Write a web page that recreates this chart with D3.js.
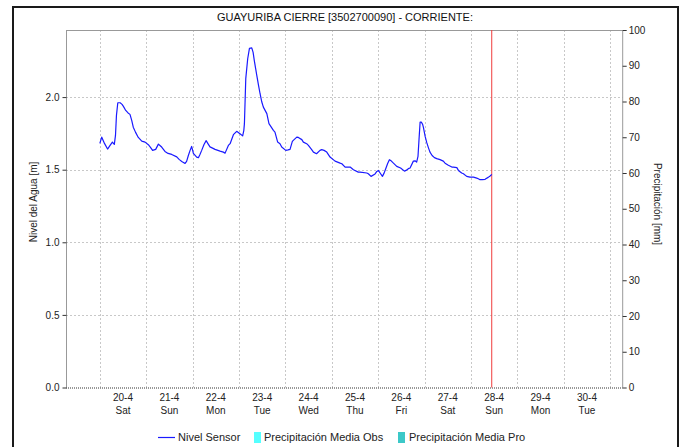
<!DOCTYPE html>
<html>
<head>
<meta charset="utf-8">
<script src="https://cdn.jsdelivr.net/npm/d3@7"></script>
<style>
  body { margin: 0; background: #fff; }
  text { font-family: "Liberation Sans", Arial, sans-serif; }
</style>
</head>
<body>
<svg id="chart" width="684" height="447"></svg>
<script>
// Station and series
const chartTitle = "GUAYURIBA CIERRE [3502700090] - CORRIENTE:";
const leftAxisTitle = "Nivel del Agua [m]";
const rightAxisTitle = "Precipitación [mm]";

// Sensor readings: hours after the first reading, water level in metres
const startTime = "2024-04-20T00:00:00";
const hourOffsets = [
  0, 1.0, 2.4, 4.0, 5.3, 6.5, 7.5, 8.1, 8.6, 9.3,
  10.5, 11.5, 12.2, 13.4, 14.6, 15.6, 16.5, 17.3, 18.5, 19.9,
  21.7, 23.4, 25.1, 26.2, 27.3, 28.9, 30.3, 31.1, 32.0, 33.7,
  35.3, 37.2, 39.8, 41.0, 42.4, 44.1, 44.9, 45.8, 46.7, 47.5,
  48.4, 50.1, 51.0, 51.8, 52.7, 53.9, 55.0, 56.0, 57.0, 58.6,
  59.6, 62.2, 63.9, 64.8, 66.5, 67.4, 69.1, 70.8, 72.5, 73.9,
  74.5, 74.8, 75.5, 76.5, 77.4, 78.6, 79.3, 79.9, 81.2, 82.1,
  82.9, 83.8, 84.6, 86.4, 87.5, 88.1, 89.8, 90.6, 92.0, 93.2,
  94.1, 96.2, 97.4, 98.4, 99.6, 100.1, 101.9, 102.7, 104.5, 105.3,
  107.0, 107.9, 109.6, 110.5, 112.1, 113.9, 114.8, 116.0, 117.4, 119.1,
  121.7, 124.3, 125.2, 126.9, 129.5, 131.2, 133.7, 134.6, 138.1, 138.9,
  140.3, 142.4, 143.3, 144.1, 145.0, 146.2, 147.1, 147.9, 148.9, 149.8,
  150.7, 151.5, 153.6, 155.6, 157.6, 158.4, 159.6, 160.5, 162.2, 163.1,
  163.9, 164.6, 165.1, 165.7, 166.3, 167.0, 167.4, 168.3, 169.1, 170.1,
  170.8, 171.9, 173.1, 174.3, 176.0, 177.7, 178.6, 180.3, 182.1, 182.9,
  184.7, 185.5, 187.2, 188.1, 189.8, 191.5, 193.3, 195.0, 195.8, 196.7,
  197.9, 199.3, 199.7, 200.9, 201.9, 202.8
];
const levels = [
  1.681, 1.724, 1.681, 1.642, 1.667, 1.690, 1.674, 1.736, 1.874, 1.961,
  1.961, 1.950, 1.936, 1.908, 1.891, 1.881, 1.840, 1.793, 1.757, 1.722,
  1.697, 1.690, 1.672, 1.654, 1.633, 1.640, 1.676, 1.667, 1.656, 1.626,
  1.612, 1.605, 1.588, 1.571, 1.557, 1.543, 1.557, 1.598, 1.633, 1.660,
  1.612, 1.587, 1.583, 1.605, 1.633, 1.674, 1.700, 1.678, 1.657, 1.647,
  1.640, 1.628, 1.621, 1.614, 1.667, 1.679, 1.741, 1.764, 1.748, 1.733,
  1.771, 1.817, 2.127, 2.264, 2.335, 2.339, 2.308, 2.253, 2.149, 2.080,
  2.023, 1.966, 1.931, 1.886, 1.817, 1.805, 1.771, 1.759, 1.690, 1.679,
  1.656, 1.633, 1.636, 1.640, 1.695, 1.702, 1.724, 1.722, 1.707, 1.690,
  1.679, 1.667, 1.638, 1.621, 1.610, 1.633, 1.638, 1.633, 1.621, 1.587,
  1.559, 1.545, 1.541, 1.518, 1.518, 1.500, 1.483, 1.483, 1.477, 1.472,
  1.454, 1.471, 1.488, 1.495, 1.477, 1.454, 1.478, 1.507, 1.543, 1.569,
  1.561, 1.550, 1.523, 1.512, 1.490, 1.495, 1.507, 1.512, 1.559, 1.561,
  1.552, 1.592, 1.702, 1.828, 1.828, 1.812, 1.791, 1.729, 1.688, 1.647,
  1.621, 1.598, 1.583, 1.576, 1.569, 1.559, 1.545, 1.530, 1.518, 1.518,
  1.514, 1.495, 1.477, 1.472, 1.454, 1.449, 1.449, 1.442, 1.438, 1.431,
  1.431, 1.433, 1.438, 1.447, 1.457, 1.468
];

// Current time marker
const nowTime = "2024-04-28T10:45:00";

// Time window shown
const windowStart = "2024-04-19T06:30:00";
const windowEnd = "2024-05-01T06:30:00";

// Axis ticks
const levelTicks = [0, 0.5, 1.0, 1.5, 2.0];
const levelGrid = [0.5, 1.0, 1.5, 2.0];
const levelMax = 2.462;
const precipTicks = [0, 10, 20, 30, 40, 50, 60, 70, 80, 90, 100];
const dayDates = ["2024-04-20", "2024-04-21", "2024-04-22", "2024-04-23", "2024-04-24",
                  "2024-04-25", "2024-04-26", "2024-04-27", "2024-04-28", "2024-04-29", "2024-04-30"];
const dayLabels = ["20-4", "21-4", "22-4", "23-4", "24-4", "25-4", "26-4", "27-4", "28-4", "29-4", "30-4"];
const dayNames = ["Sat", "Sun", "Mon", "Tue", "Wed", "Thu", "Fri", "Sat", "Sun", "Mon", "Tue"];
const dayBoundaries = ["2024-04-20", "2024-04-21", "2024-04-22", "2024-04-23", "2024-04-24", "2024-04-25",
                       "2024-04-26", "2024-04-27", "2024-04-28", "2024-04-29", "2024-04-30", "2024-05-01"];

// Legend entries
const legendNames = ["Nivel Sensor", "Precipitación Media Obs", "Precipitación Media Pro"];
const legendColors = ["#1a1aff", "#55ffff", "#3cc8c8"];

// ---------------------------------------------------------------
const svg = d3.select("#chart");
const plot = { left: 66, right: 622.7, top: 30, bottom: 387.5 };

const parse = s => new Date(s.length === 10 ? s + "T00:00:00" : s);
const t0 = parse(startTime);
const series = hourOffsets.map((h, i) => ({ t: new Date(t0.getTime() + h * 3600e3), v: levels[i] }));

const x = d3.scaleTime().domain([parse(windowStart), parse(windowEnd)]).range([plot.left, plot.right]);
const yL = d3.scaleLinear().domain([0, levelMax]).range([plot.bottom, plot.top]);
const yR = d3.scaleLinear().domain([0, 100]).range([plot.bottom, plot.top]);

// Outer frame
svg.append("rect").attr("x", 13).attr("y", 7).attr("width", 665).attr("height", 460)
  .attr("fill", "none").attr("stroke", "#1a1a1a").attr("stroke-width", 2);

// Title
svg.append("text").attr("x", 345).attr("y", 21).attr("text-anchor", "middle")
  .attr("font-size", 11).attr("fill", "#111").text(chartTitle);

// Grid
const grid = svg.append("g").attr("stroke", "#c8c8c8").attr("stroke-dasharray", "2,2").attr("stroke-width", 1);
grid.selectAll("line.v").data(dayBoundaries).join("line")
  .attr("x1", d => Math.round(x(parse(d))) + 0.5).attr("x2", d => Math.round(x(parse(d))) + 0.5)
  .attr("y1", plot.top).attr("y2", plot.bottom);
grid.selectAll("line.h").data(levelGrid).join("line")
  .attr("x1", plot.left).attr("x2", plot.right)
  .attr("y1", d => Math.round(yL(d)) + 0.5).attr("y2", d => Math.round(yL(d)) + 0.5);

// Plot border (top, right)
svg.append("line").attr("x1", plot.left).attr("x2", plot.right).attr("y1", plot.top + 0.5).attr("y2", plot.top + 0.5)
  .attr("stroke", "#999");

// Left axis
const axL = svg.append("g").attr("transform", `translate(${plot.left + 0.5},0)`)
  .call(d3.axisLeft(yL).tickValues(levelTicks).tickFormat(d3.format(".1f")).tickSize(4).tickPadding(3));
axL.select(".domain").attr("stroke", "#999").attr("d", `M0,${plot.top}V${plot.bottom}`);
axL.selectAll(".tick line").attr("stroke", "#333");
axL.selectAll(".tick text").attr("font-size", 10).attr("fill", "#222")
  .attr("font-family", "'Liberation Sans', Arial, sans-serif");

// Right axis
const axR = svg.append("g").attr("transform", `translate(${plot.right},0)`)
  .call(d3.axisRight(yR).tickValues(precipTicks).tickSize(4).tickPadding(2));
axR.select(".domain").attr("stroke", "#999").attr("d", `M0,${plot.top}V${plot.bottom}`);
axR.selectAll(".tick line").attr("stroke", "#333");
axR.selectAll(".tick text").attr("font-size", 10).attr("fill", "#222")
  .attr("font-family", "'Liberation Sans', Arial, sans-serif");

// Bottom axis line
svg.append("line").attr("x1", plot.left).attr("x2", plot.right)
  .attr("y1", plot.bottom + 0.5).attr("y2", plot.bottom + 0.5)
  .attr("stroke", "#333").attr("stroke-dasharray", "1,1");

// Day labels at midday
const dayLab = svg.append("g").attr("font-size", 10).attr("fill", "#222").attr("text-anchor", "middle");
dayDates.forEach((d, i) => {
  const cx = x(new Date(parse(d).getTime() + 12 * 3600e3));
  dayLab.append("text").attr("x", cx).attr("y", 401).text(dayLabels[i]);
  dayLab.append("text").attr("x", cx).attr("y", 414).text(dayNames[i]);
});

// Axis titles
svg.append("text").attr("transform", "translate(37,202) rotate(-90)").attr("text-anchor", "middle")
  .attr("font-size", 10).attr("fill", "#222").text(leftAxisTitle);
svg.append("text").attr("transform", "translate(654,204) rotate(90)").attr("text-anchor", "middle")
  .attr("font-size", 10).attr("fill", "#222").text(rightAxisTitle);

// Current time marker
svg.append("line").attr("x1", x(parse(nowTime))).attr("x2", x(parse(nowTime)))
  .attr("y1", plot.top).attr("y2", plot.bottom)
  .attr("stroke", "#f03c3c").attr("stroke-width", 1);

// Water level line
svg.append("path").datum(series)
  .attr("fill", "none").attr("stroke", legendColors[0]).attr("stroke-width", 1.2)
  .attr("stroke-linejoin", "round")
  .attr("d", d3.line().x(d => x(d.t)).y(d => yL(d.v)));

// Legend
const lg = svg.append("g").attr("font-size", 11).attr("fill", "#222");
lg.append("line").attr("x1", 158).attr("x2", 175).attr("y1", 437.5).attr("y2", 437.5)
  .attr("stroke", legendColors[0]).attr("stroke-width", 1.2);
lg.append("text").attr("x", 178).attr("y", 441).text(legendNames[0]);
lg.append("rect").attr("x", 254).attr("y", 432).attr("width", 7).attr("height", 11).attr("fill", legendColors[1]);
lg.append("text").attr("x", 264).attr("y", 441).text(legendNames[1]);
lg.append("rect").attr("x", 398).attr("y", 432).attr("width", 7).attr("height", 11).attr("fill", legendColors[2]);
lg.append("text").attr("x", 409).attr("y", 441).text(legendNames[2]);
</script>
</body>
</html>
